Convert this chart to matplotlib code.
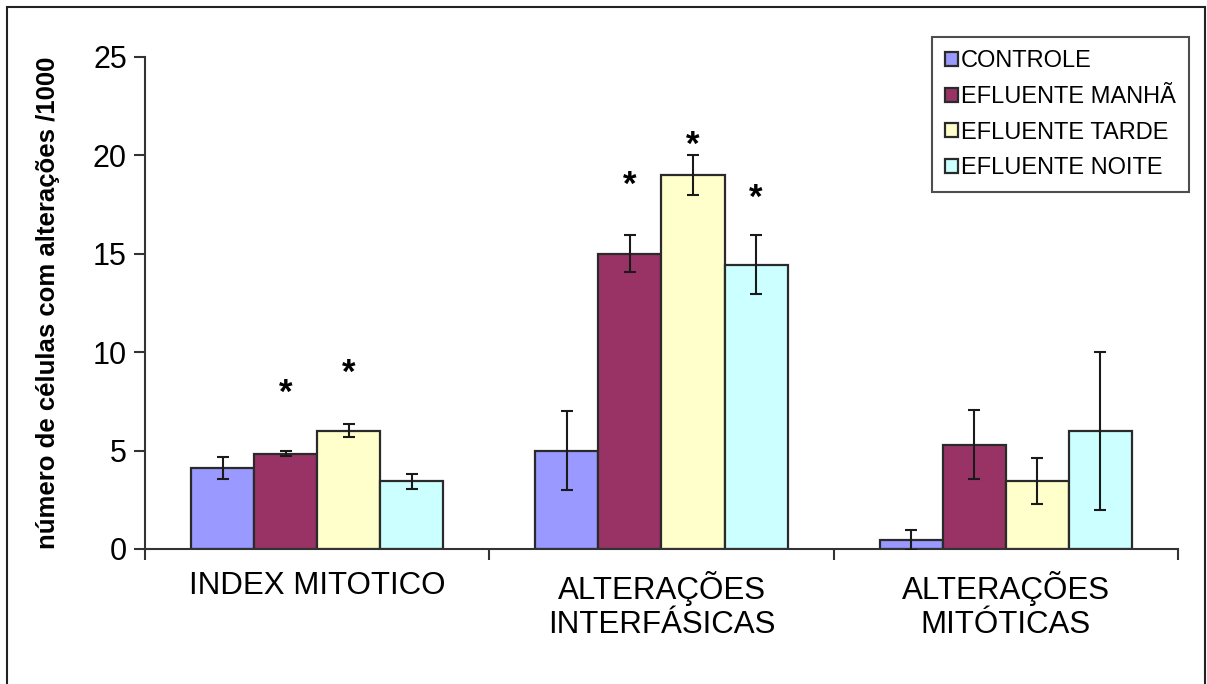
import matplotlib.pyplot as plt
import numpy as np
from matplotlib.patches import Rectangle

plt.rcParams['font.family'] = ['Liberation Sans', 'DejaVu Sans']

categories = ["INDEX MITOTICO", "ALTERAÇÕES\nINTERFÁSICAS", "ALTERAÇÕES\nMITÓTICAS"]
series = ["CONTROLE", "EFLUENTE MANHÃ", "EFLUENTE TARDE", "EFLUENTE NOITE"]
colors = ["#9999FF", "#993366", "#FFFFCC", "#CCFFFF"]

# means per series, one value per category
controle = [4.1, 5.0, 0.45]
manha = [4.85, 15.0, 5.3]
tarde = [6.0, 19.0, 3.47]
noite = [3.45, 14.45, 6.0]

controle_err = [0.55, 2.0, 0.5]
manha_err = [0.13, 0.95, 1.75]
tarde_err = [0.33, 1.0, 1.17]
noite_err = [0.38, 1.5, 4.0]

# significance marks: (category, series index, y position)
stars = [(0, 1, 7.9), (0, 2, 8.9), (1, 1, 18.5), (1, 2, 20.5), (1, 3, 17.8)]

means = [controle, manha, tarde, noite]
errs = [controle_err, manha_err, tarde_err, noite_err]

fig = plt.figure(figsize=(12.07, 6.84), dpi=100)
ax = fig.add_axes([0.1201, 0.1974, 0.8559, 0.7193])

fig.patches.append(Rectangle((7 / 1207, -0.02), 1198 / 1207, 1 - 7 / 684 + 0.02,
                             transform=fig.transFigure, fill=False,
                             edgecolor="#222222", linewidth=1.5))

x = np.arange(len(categories))
w = 0.183
offsets = (np.arange(4) - 1.5) * w

for i in range(4):
    ax.bar(x + offsets[i], means[i], width=w, color=colors[i],
           edgecolor="#2a2a2a", linewidth=1.6, label=series[i], zorder=2)
    ax.errorbar(x + offsets[i], means[i], yerr=errs[i], fmt="none",
                ecolor="#1a1a1a", elinewidth=1.5, capsize=4, capthick=1.5, zorder=3)

for c, s, yv in stars:
    ax.text(x[c] + offsets[s], yv, "*", ha="center", va="center",
            fontsize=25, fontweight="bold", color="black")

ax.set_xlim(-0.5, 2.5)
ax.set_ylim(0, 25)
ax.set_yticks([0, 5, 10, 15, 20, 25])
ax.set_xticks(x)
ax.set_xticklabels(categories, fontsize=22.5, linespacing=1.15)
ax.set_xticks([-0.5, 0.5, 1.5, 2.5], minor=True)
ax.tick_params(axis="x", which="major", length=0, pad=16)
ax.tick_params(axis="x", which="minor", length=8, width=1.5, direction="out", color="#333333")
ax.tick_params(axis="y", length=8, width=1.5, direction="out", color="#333333",
               labelsize=22, pad=5)

for side in ["top", "right"]:
    ax.spines[side].set_visible(False)
for side in ["left", "bottom"]:
    ax.spines[side].set_linewidth(1.5)
    ax.spines[side].set_color("#333333")

ax.set_ylabel("número de células com alterações /1000", fontsize=18.5,
              fontweight="bold")
ax.yaxis.set_label_coords(-0.082, 0.5)

leg = ax.legend(loc="upper right", bbox_to_anchor=(1.0106, 1.04), fontsize=17,
                frameon=True, fancybox=False, edgecolor="#222222",
                handlelength=0.55, handleheight=0.55, handletextpad=0.12,
                labelspacing=0.58, borderpad=0.55, borderaxespad=0)
leg.get_frame().set_linewidth(1.5)

fig.savefig("out.png", dpi=100)
